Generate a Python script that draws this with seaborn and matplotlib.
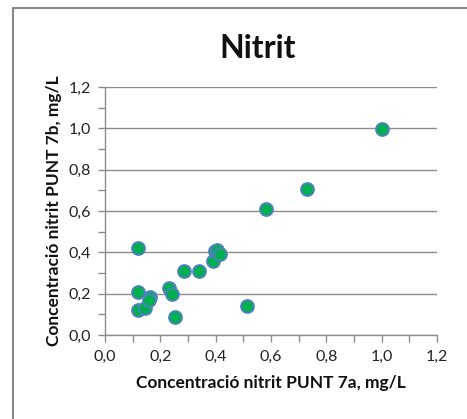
import matplotlib
matplotlib.use("Agg")
import matplotlib.pyplot as plt
import seaborn as sns
import pandas as pd
from matplotlib.ticker import MultipleLocator, FuncFormatter
from matplotlib.lines import Line2D

title = "Nitrit"
x_label = "Concentració nitrit PUNT 7a, mg/L"
y_label = "Concentració nitrit PUNT 7b, mg/L"

punt_7a = [0.120, 0.120, 0.120, 0.145, 0.163, 0.160, 0.231, 0.241, 0.253,
           0.285, 0.341, 0.391, 0.398, 0.404, 0.416, 0.514, 0.582, 0.731, 1.000]
punt_7b = [0.420, 0.210, 0.121, 0.129, 0.182, 0.169, 0.226, 0.198, 0.086,
           0.310, 0.310, 0.358, 0.408, 0.411, 0.390, 0.140, 0.608, 0.705, 0.997]

df = pd.DataFrame({"x": punt_7a, "y": punt_7b})

sns.set_theme(style="white")
plt.rcParams['font.family'] = ['Lato', 'DejaVu Sans']

fig = plt.figure(figsize=(4.67, 4.19), dpi=100)
ax = fig.add_axes([105/467, 1-335/419, 332/467, 248/419])

grey = "#8c8c8c"
sns.scatterplot(data=df, x="x", y="y", ax=ax, s=85, color="#00B050",
                edgecolor="#4F81BD", linewidth=1.4, zorder=3, legend=False)

ax.set_xlim(0, 1.2)
ax.set_ylim(0, 1.2)
ax.xaxis.set_major_locator(MultipleLocator(0.2))
ax.yaxis.set_major_locator(MultipleLocator(0.2))
ax.xaxis.set_minor_locator(MultipleLocator(0.1))
ax.yaxis.set_minor_locator(MultipleLocator(0.1))
fmt = FuncFormatter(lambda v, p: f"{v:.1f}".replace(".", ","))
ax.xaxis.set_major_formatter(fmt)
ax.yaxis.set_major_formatter(fmt)

ax.grid(True, axis="y", which="major", color=grey, linewidth=1.0)
ax.grid(False, axis="x")
ax.set_axisbelow(True)
for s in ["top", "right"]:
    ax.spines[s].set_visible(False)
for s in ["left", "bottom"]:
    ax.spines[s].set_color(grey)
    ax.spines[s].set_linewidth(1.0)

ax.tick_params(axis="both", which="both", direction="out", length=5, width=1,
               color=grey, labelsize=11.5, labelcolor="#222222")
ax.tick_params(axis="x", which="major", pad=6)
ax.tick_params(axis="y", which="major", pad=5)
ax.tick_params(bottom=True, left=True, which="both")

ax.set_xlabel(x_label, fontsize=12.5, fontweight="bold", labelpad=8, color="#111111")
ax.set_ylabel(y_label, fontsize=12.5, fontweight="bold", labelpad=5, color="#111111")
fig.text(258/467, 1-48/419, title, fontsize=23, fontweight="bold",
         ha="center", va="center", color="#111111")

border_x = 12.5/467
border_y = 1 - 8.5/419
fig.lines.append(Line2D([border_x, border_x], [0, border_y], transform=fig.transFigure,
                        color="#888888", linewidth=1.5))
fig.lines.append(Line2D([border_x, 1], [border_y, border_y], transform=fig.transFigure,
                        color="#888888", linewidth=1.5))

fig.savefig("out.png", dpi=100)
